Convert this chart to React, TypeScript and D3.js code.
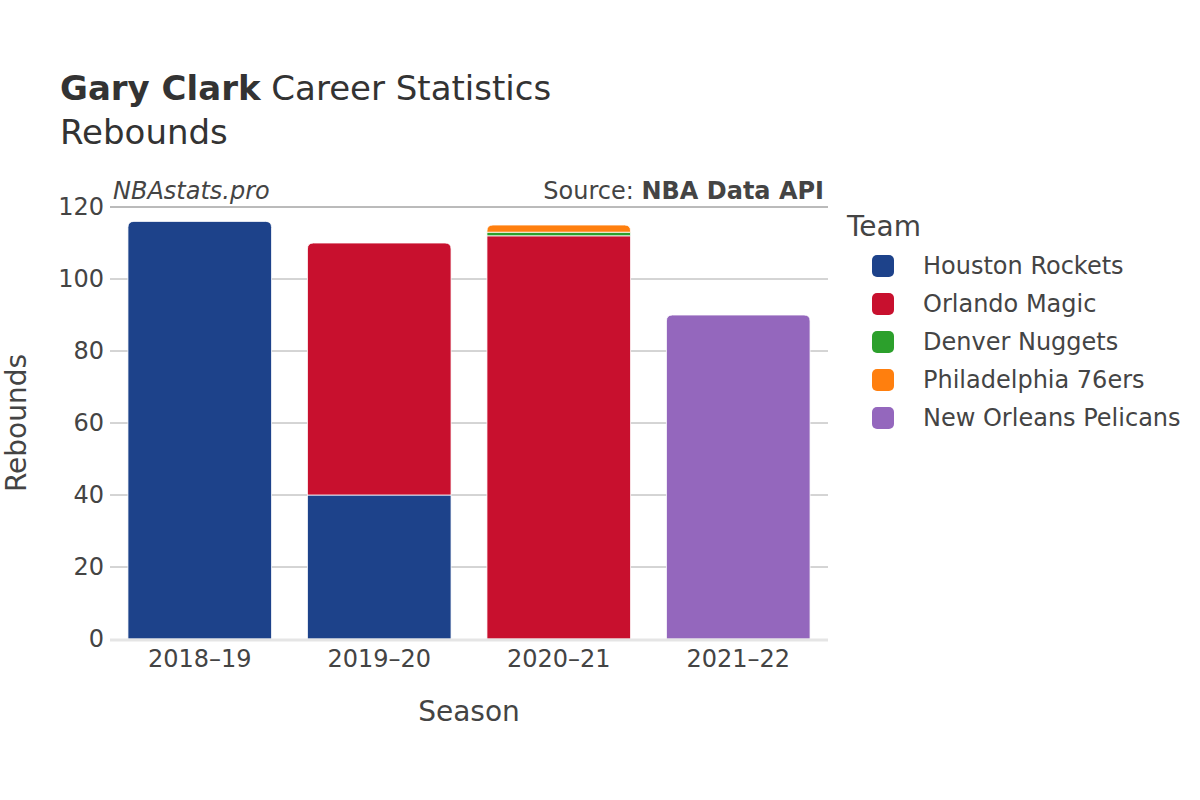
import React, { useEffect, useRef } from "react";
import * as d3 from "d3";

const seasons = ["2018–19", "2019–20", "2020–21", "2021–22"];
const teams = ["Houston Rockets", "Orlando Magic", "Denver Nuggets", "Philadelphia 76ers", "New Orleans Pelicans"];
const teamColors = ["#1d428a", "#c8102e", "#2ca02c", "#ff7f0e", "#9467bd"];
// rebounds per season, one array per team
const houston = [116, 40, 0, 0];
const orlando = [0, 70, 112, 0];
const denver = [0, 0, 1, 0];
const philly = [0, 0, 2, 0];
const pelicans = [0, 0, 0, 90];
const yTicks = [0, 20, 40, 60, 80, 100, 120];

const FONT = "'DejaVu Sans', sans-serif";

function roundedTop(x: number, y: number, w: number, h: number, r: number) {
  r = Math.min(r, h, w / 2);
  return `M${x},${y + h}V${y + r}Q${x},${y} ${x + r},${y}H${x + w - r}Q${x + w},${y} ${x + w},${y + r}V${y + h}Z`;
}

export default function App() {
  const ref = useRef<SVGSVGElement>(null);

  useEffect(() => {
    const svg = d3.select(ref.current);
    svg.selectAll("*").remove();

    const margin = { top: 207, left: 110, right: 372, bottom: 161 };
    const width = 1200 - margin.left - margin.right;
    const height = 800 - margin.top - margin.bottom;

    const x = d3.scaleBand().domain(seasons).range([0, width]).paddingInner(0.2).paddingOuter(0.1);
    const y = d3.scaleLinear().domain([0, 120]).range([height, 0]);

    const table = seasons.map((s, i) => ({
      season: s,
      "Houston Rockets": houston[i],
      "Orlando Magic": orlando[i],
      "Denver Nuggets": denver[i],
      "Philadelphia 76ers": philly[i],
      "New Orleans Pelicans": pelicans[i],
    }));
    const stack = d3.stack<any>().keys(teams)(table);
    const color = d3.scaleOrdinal<string>().domain(teams).range(teamColors);

    // titles
    const title = svg.append("text").attr("x", 60).attr("y", 100).attr("font-family", FONT).attr("font-size", 34).attr("fill", "#333");
    title.append("tspan").attr("font-weight", "bold").text("Gary Clark");
    title.append("tspan").text(" Career Statistics");
    svg.append("text").attr("x", 60).attr("y", 144).attr("font-family", FONT).attr("font-size", 34).attr("fill", "#333").text("Rebounds");

    const g = svg.append("g").attr("transform", `translate(${margin.left},${margin.top})`);

    // grid
    g.selectAll(".grid").data(yTicks.filter(t => t > 0)).join("line")
      .attr("x1", 0).attr("x2", width).attr("y1", d => y(d)).attr("y2", d => y(d))
      .attr("stroke", d => d === 120 ? "#777" : "#aaa").attr("stroke-width", 1);

    // y tick labels
    g.selectAll(".yt").data(yTicks).join("text")
      .attr("x", -6).attr("y", d => y(d)).attr("dy", "0.35em").attr("text-anchor", "end")
      .attr("font-family", FONT).attr("font-size", 24).attr("fill", "#444").text(d => d);

    // bars
    const topIdx = seasons.map((_, i) => {
      let last = -1;
      stack.forEach((layer, k) => { if (layer[i][1] - layer[i][0] > 0) last = k; });
      return last;
    });
    stack.forEach((layer, k) => {
      g.append("g").selectAll("path").data(layer.map((d, i) => ({ d, i })).filter(o => o.d[1] - o.d[0] > 0)).join("path")
        .attr("d", o => {
          const bx = x(seasons[o.i])!;
          const y0 = y(o.d[0]);
          const y1 = y(o.d[1]);
          const r = topIdx[o.i] === k ? 6 : 0;
          return roundedTop(bx, y1, x.bandwidth(), y0 - y1, r);
        })
        .attr("fill", color(teams[k]))
        .attr("stroke", "#fff").attr("stroke-width", 0.8);
    });

    // zero line
    g.append("line").attr("x1", 0).attr("x2", width).attr("y1", y(0) + 1).attr("y2", y(0) + 1)
      .attr("stroke", "#e5e5e5").attr("stroke-width", 3);

    // x labels
    g.selectAll(".xt").data(seasons).join("text")
      .attr("x", d => x(d)! + x.bandwidth() / 2).attr("y", height + 28).attr("text-anchor", "middle")
      .attr("font-family", FONT).attr("font-size", 24).attr("fill", "#444").text(d => d);

    g.append("text").attr("x", width / 2).attr("y", height + 82).attr("text-anchor", "middle")
      .attr("font-family", FONT).attr("font-size", 28).attr("fill", "#444").text("Season");
    svg.append("text").attr("transform", `translate(26,${margin.top + height / 2}) rotate(-90)`)
      .attr("text-anchor", "middle").attr("font-family", FONT).attr("font-size", 28).attr("fill", "#444").text("Rebounds");

    // watermark & source
    g.append("text").attr("x", 3).attr("y", -8).attr("font-family", FONT).attr("font-size", 24)
      .attr("font-style", "italic").attr("fill", "#444").text("NBAstats.pro");
    const src = g.append("text").attr("x", width - 4).attr("y", -8).attr("text-anchor", "end")
      .attr("font-family", FONT).attr("font-size", 24).attr("fill", "#444");
    src.append("tspan").text("Source: ");
    src.append("tspan").attr("font-weight", "bold").text("NBA Data API");

    // legend
    const lg = svg.append("g").attr("transform", "translate(847,0)");
    lg.append("text").attr("x", 0).attr("y", 236).attr("font-family", FONT).attr("font-size", 28).attr("fill", "#444").text("Team");
    teams.forEach((t, i) => {
      const cy = 266 + i * 38;
      lg.append("rect").attr("x", 25).attr("y", cy - 11).attr("width", 22).attr("height", 22).attr("rx", 5)
        .attr("fill", color(t));
      lg.append("text").attr("x", 76).attr("y", cy).attr("dy", "0.35em").attr("font-family", FONT)
        .attr("font-size", 24).attr("fill", "#444").text(t);
    });
  }, []);

  return <svg ref={ref} width={1200} height={800} style={{ display: "block", background: "#fff", position: "absolute", left: 0, top: 0 }} />;
}
